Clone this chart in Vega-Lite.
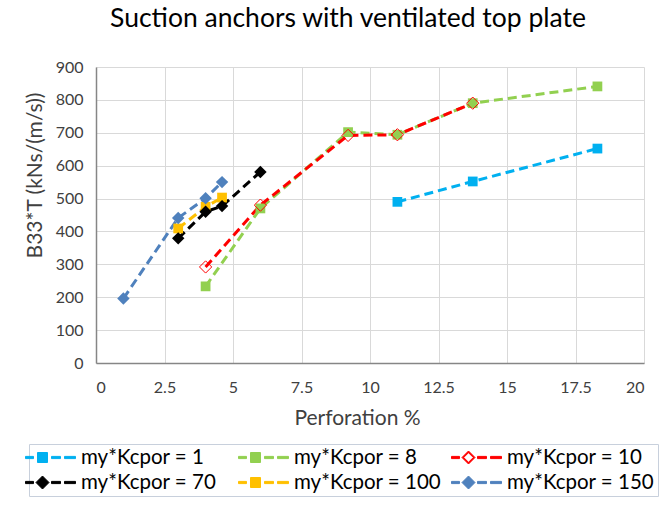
{
  "$schema": "https://vega.github.io/schema/vega-lite/v6.json",
  "width": 548,
  "height": 296,
  "autosize": "none",
  "padding": {"left": 96, "top": 67, "right": 24, "bottom": 142},
  "background": "white",
  "title": {
    "text": "Suction anchors with ventilated top plate",
    "frame": "group",
    "anchor": "middle",
    "dx": -22,
    "offset": 6,
    "baseline": "alphabetic",
    "font": "Lato",
    "fontSize": 26.5,
    "fontWeight": "normal",
    "color": "#000000"
  },
  "config": {
    "view": {"stroke": null},
    "font": "Lato",
    "axis": {
      "grid": true,
      "gridColor": "#d9d9d9",
      "gridWidth": 1,
      "domainColor": "#868686",
      "domainWidth": 1.5,
      "ticks": false,
      "labelFont": "Lato",
      "labelFontSize": 16,
      "labelColor": "#404040",
      "titleFont": "Lato",
      "titleFontSize": 21,
      "titleFontWeight": "normal",
      "titleColor": "#404040"
    }
  },
  "data": {
    "values": [
      {"series": "my*Kcpor = 1", "perf": 11, "b33t": 490},
      {"series": "my*Kcpor = 1", "perf": 13.75, "b33t": 552},
      {"series": "my*Kcpor = 1", "perf": 18.3, "b33t": 652},
      {"series": "my*Kcpor = 8", "perf": 4, "b33t": 233},
      {"series": "my*Kcpor = 8", "perf": 6, "b33t": 470},
      {"series": "my*Kcpor = 8", "perf": 9.2, "b33t": 702},
      {"series": "my*Kcpor = 8", "perf": 11, "b33t": 694},
      {"series": "my*Kcpor = 8", "perf": 13.75, "b33t": 790},
      {"series": "my*Kcpor = 8", "perf": 18.3, "b33t": 841},
      {"series": "my*Kcpor = 10", "perf": 4, "b33t": 292},
      {"series": "my*Kcpor = 10", "perf": 6, "b33t": 480},
      {"series": "my*Kcpor = 10", "perf": 9.2, "b33t": 692},
      {"series": "my*Kcpor = 10", "perf": 11, "b33t": 694},
      {"series": "my*Kcpor = 10", "perf": 13.75, "b33t": 790},
      {"series": "my*Kcpor = 70", "perf": 3, "b33t": 379},
      {"series": "my*Kcpor = 70", "perf": 4, "b33t": 460},
      {"series": "my*Kcpor = 70", "perf": 4.6, "b33t": 477},
      {"series": "my*Kcpor = 70", "perf": 6, "b33t": 581},
      {"series": "my*Kcpor = 100", "perf": 3, "b33t": 409},
      {"series": "my*Kcpor = 100", "perf": 4, "b33t": 475},
      {"series": "my*Kcpor = 100", "perf": 4.6, "b33t": 503},
      {"series": "my*Kcpor = 150", "perf": 1, "b33t": 196},
      {"series": "my*Kcpor = 150", "perf": 3, "b33t": 441},
      {"series": "my*Kcpor = 150", "perf": 4, "b33t": 501},
      {"series": "my*Kcpor = 150", "perf": 4.6, "b33t": 550}
    ]
  },
  "encoding": {
    "x": {
      "field": "perf",
      "type": "quantitative",
      "title": "Perforation %",
      "scale": {"domain": [0, 20], "nice": false, "zero": false},
      "axis": {
        "values": [0, 2.5, 5, 7.5, 10, 12.5, 15, 17.5, 20],
        "format": ".1~f",
        "labelPadding": 16,
        "titlePadding": 12,
        "titleX": 261
      }
    },
    "y": {
      "field": "b33t",
      "type": "quantitative",
      "title": "B33*T (kNs/(m/s))",
      "scale": {"domain": [0, 900], "nice": false},
      "axis": {
        "values": [0, 100, 200, 300, 400, 500, 600, 700, 800, 900],
        "labelPadding": 13,
        "titlePadding": 10,
        "titleY": 108
      }
    },
    "color": {
      "field": "series",
      "type": "nominal",
      "scale": {
        "domain": ["my*Kcpor = 1", "my*Kcpor = 8", "my*Kcpor = 10", "my*Kcpor = 70", "my*Kcpor = 100", "my*Kcpor = 150"],
        "range": ["#00b0f0", "#92d050", "#ff0000", "#000000", "#ffc000", "#4f81bd"]
      },
      "legend": {
        "title": null,
        "orient": "none",
        "direction": "horizontal",
        "legendX": -67,
        "legendY": 377,
        "columns": 3,
        "gridAlign": "all",
        "columnPadding": 7,
        "rowPadding": 4,
        "padding": 3,
        "strokeColor": "#c8d0dc",
        "symbolSize": 400,
        "symbolStrokeWidth": 1,
        "labelOffset": 28,
        "labelFont": "Lato",
        "labelFontSize": 20.5,
        "labelColor": "#000000",
        "labelLimit": 300,
        "encode": {
          "symbols": {
            "update": {
              "shape": {"signal": "datum.value === 'my*Kcpor = 10' ? 'M-1.7,-0.11H-0.9V0.11H-1.7Z M0,-0.65L0.65,0L0,0.65L-0.65,0Z M0,-0.48L-0.48,0L0,0.48L0.48,0Z M0.9,-0.11H1.8V0.11H0.9Z M2.2,-0.11H3.3V0.11H2.2Z' : indexof(['my*Kcpor = 70','my*Kcpor = 150'], datum.value) >= 0 ? 'M-1.7,-0.11H-0.9V0.11H-1.7Z M0,-0.65L0.65,0L0,0.65L-0.65,0Z M0.9,-0.11H1.8V0.11H0.9Z M2.2,-0.11H3.3V0.11H2.2Z' : 'M-1.7,-0.11H-0.9V0.11H-1.7Z M-0.5,-0.5H0.5V0.5H-0.5Z M0.9,-0.11H1.8V0.11H0.9Z M2.2,-0.11H3.3V0.11H2.2Z'"},
              "stroke": {"signal": "scale('color', datum.value)"},
              "strokeWidth": {"value": 1},
              "opacity": {"value": 1}
            }
          }
        }
      }
    }
  },
  "layer": [
    {
      "mark": {"type": "line", "strokeDash": [9, 5], "strokeWidth": 3}
    },
    {
      "transform": [{"filter": "indexof(['my*Kcpor = 1','my*Kcpor = 8','my*Kcpor = 100'], datum.series) >= 0"}],
      "mark": {"type": "point", "shape": "square", "filled": true, "size": 95, "opacity": 1}
    },
    {
      "transform": [{"filter": "indexof(['my*Kcpor = 70','my*Kcpor = 150'], datum.series) >= 0"}],
      "mark": {"type": "point", "shape": "diamond", "filled": true, "size": 155, "opacity": 1}
    },
    {
      "transform": [{"filter": "datum.series === 'my*Kcpor = 10'"}],
      "mark": {"type": "point", "shape": "diamond", "filled": false, "strokeWidth": 1, "size": 150, "opacity": 1}
    }
  ]
}
